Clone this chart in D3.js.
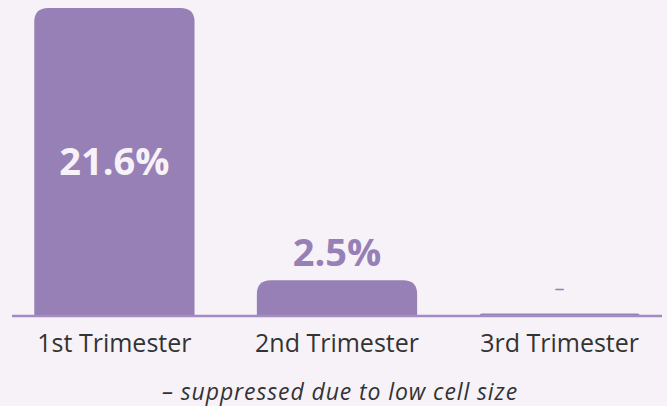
<!DOCTYPE html>
<html>
<head>
<meta charset="utf-8">
<script src="https://cdn.jsdelivr.net/npm/d3@7"></script>
<style>
  html, body { margin: 0; padding: 0; background: #f7f2f8; }
  svg { display: block; font-family: 'Open Sans', sans-serif; }
</style>
</head>
<body>
<svg id="chart"></svg>
<script>
const WIDTH = 667;
const HEIGHT = 406;

// Chart data (null = suppressed)
const trimesters = ['1st Trimester', '2nd Trimester', '3rd Trimester'];
const percents = [21.6, 2.5, null];
const footnote = '\u2013 suppressed due to low cell size';

const BAR_COLOR = '#9780b6';
const AXIS_COLOR = '#a48cc3';
const TEXT_COLOR = '#333333';

const svg = d3.select('#chart')
  .attr('width', WIDTH)
  .attr('height', HEIGHT)
  .attr('viewBox', `0 0 ${WIDTH} ${HEIGHT}`);

const baseline = 316;

const x = d3.scaleBand()
  .domain(trimesters)
  .range([12, 662])
  .paddingInner(0.28)
  .paddingOuter(0.1);

const y = d3.scaleLinear()
  .domain([0, 21.6])
  .range([baseline, 8]);

const data = trimesters.map((t, i) => ({name: t, value: percents[i]}));

// Rounded-top bar path.
function barPath(d) {
  const x0 = x(d.name);
  const w = x.bandwidth();
  const top = d.value == null ? baseline - 2.5 : y(d.value);
  const h = baseline - top;
  const r = Math.min(14, h);
  return `M${x0},${baseline}V${top + r}Q${x0},${top} ${x0 + r},${top}` +
    `H${x0 + w - r}Q${x0 + w},${top} ${x0 + w},${top + r}V${baseline}Z`;
}

svg.append('g')
  .selectAll('path')
  .data(data)
  .join('path')
  .attr('d', barPath)
  .attr('fill', BAR_COLOR);

// Baseline axis.
svg.append('line')
  .attr('x1', 12)
  .attr('x2', 662)
  .attr('y1', baseline)
  .attr('y2', baseline)
  .attr('stroke', AXIS_COLOR)
  .attr('stroke-width', 2.5);

// Value labels: inside tall bars, above short ones, dash when suppressed.
svg.append('g')
  .selectAll('text')
  .data(data)
  .join('text')
  .attr('x', d => x(d.name) + x.bandwidth() / 2)
  .attr('y', d => {
    if (d.value == null) return baseline - 21;
    const h = baseline - y(d.value);
    return h > 80 ? y(d.value) + h / 2 + 13 : y(d.value) - 14;
  })
  .attr('text-anchor', 'middle')
  .attr('font-weight', d => d.value == null ? 400 : 700)
  .attr('font-size', d => d.value == null ? 20 : 38)
  .attr('fill', d => {
    if (d.value == null) return BAR_COLOR;
    return (baseline - y(d.value)) > 80 ? '#f7f2f8' : BAR_COLOR;
  })
  .text(d => d.value == null ? '\u2013' : d.value.toFixed(1) + '%');

// Category labels.
svg.append('g')
  .selectAll('text')
  .data(trimesters)
  .join('text')
  .attr('x', d => x(d) + x.bandwidth() / 2)
  .attr('y', 352)
  .attr('text-anchor', 'middle')
  .attr('font-size', 25)
  .attr('fill', TEXT_COLOR)
  .text(d => d);

// Footnote.
svg.append('text')
  .attr('x', 340)
  .attr('y', 400)
  .attr('text-anchor', 'middle')
  .attr('font-size', 23)
  .attr('letter-spacing', 0.9)
  .attr('font-style', 'italic')
  .attr('fill', TEXT_COLOR)
  .text(footnote);
</script>
</body>
</html>
